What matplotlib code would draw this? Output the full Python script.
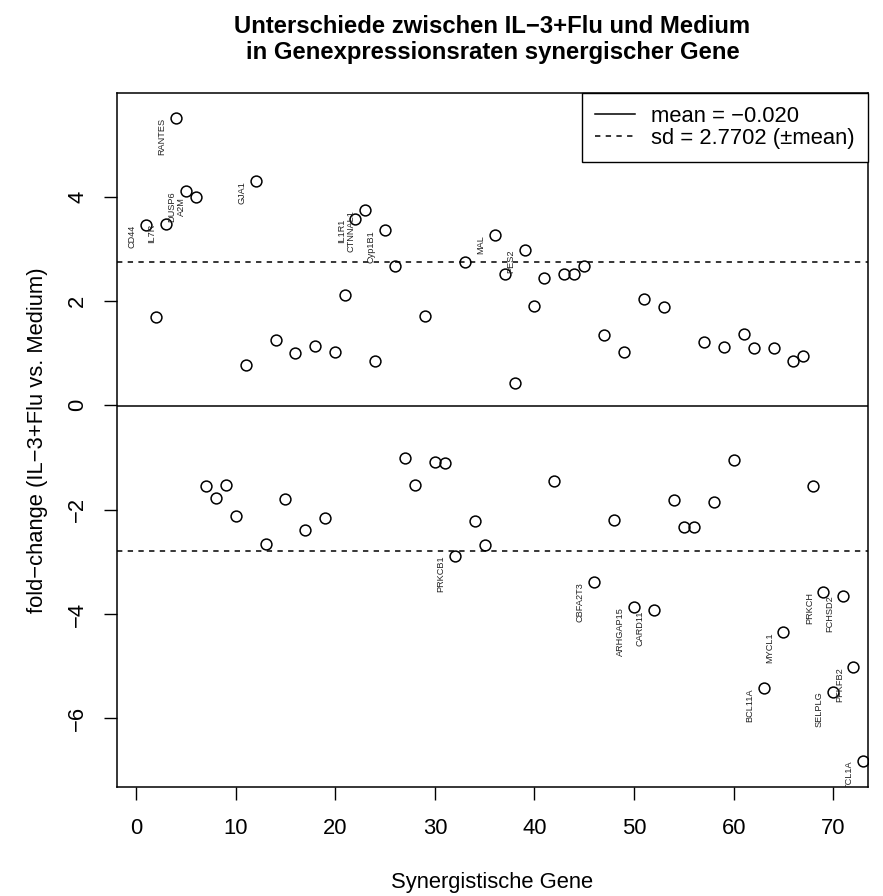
import matplotlib
matplotlib.use("Agg")
import matplotlib.pyplot as plt
import numpy as np

plt.rcParams['font.family'] = ['Liberation Sans', 'DejaVu Sans']

# fold-change per synergistic gene, gene index 1..73
fold_change = [
    3.46, 1.69, 3.47, 5.50, 4.10, 3.99, -1.55, -1.77, -1.52, -2.12,
    0.77, 4.30, -2.65, 1.25, -1.80, 1.00, -2.40, 1.14, -2.16, 1.02,
    2.11, 3.57, 3.74, 0.84, 3.36, 2.67, -1.01, -1.53, 1.72, -1.08,
    -1.11, -2.88, 2.75, -2.22, -2.67, 3.27, 2.52, 0.42, 2.98, 1.90,
    2.44, -1.46, 2.52, 2.52, 2.67, -3.39, 1.35, -2.19, 1.02, -3.86,
    2.03, -3.93, 1.88, -1.81, -2.34, -2.34, 1.21, -1.85, 1.11, -1.04,
    1.37, 1.09, -5.42, 1.09, -4.35, 0.85, 0.94, -1.55, -3.57, -5.49,
    -3.65, -5.02, -6.81,
]
gene_idx = list(range(1, len(fold_change) + 1))

# labelled genes
label_idx = [1, 3, 4, 5, 6, 12, 22, 23, 25, 36, 39,
             32, 46, 50, 52, 63, 65, 69, 70, 71, 72, 73]
label_names = ['CD44', 'IL7R', 'RANTES', 'DUSP6', 'A2M', 'GJA1', 'IL1R1',
               'CTNNAL1', 'Cyp1B1', 'MAL', 'PES2',
               'PRKCB1', 'CBFA2T3', 'ARHGAP15', 'CARD11', 'BCL11A', 'MYCL1',
               'PRKCH', 'SELPLG', 'FCHSD2', 'PFKFB2', 'TCL1A']

mean_fc = -0.020
sd_fc = 2.7702

x_ticks = [0, 10, 20, 30, 40, 50, 60, 70]
y_ticks = [-6, -4, -2, 0, 2, 4]

fig = plt.figure(figsize=(8.83, 8.96), dpi=100)
ax = fig.add_axes([0.1322, 0.122, 0.851, 0.7745])

ax.plot(gene_idx, fold_change, 'o', mfc='none', mec='black', ms=7.8, mew=1.1,
        zorder=3)

ax.axhline(mean_fc, color='black', lw=1.1, label='mean = \u22120.020')
ax.axhline(mean_fc + sd_fc, color='black', lw=1.1, dashes=(3.5, 3.5),
           label='sd = 2.7702 (\u00b1mean)')
ax.axhline(mean_fc - sd_fc, color='black', lw=1.1, dashes=(3.5, 3.5))

for i, name in zip(label_idx, label_names):
    ax.annotate(name, (i, fold_change[i - 1]), xytext=(-10, 0),
                textcoords='offset points', rotation=90,
                rotation_mode='anchor', ha='right', va='center',
                fontsize=6.6, color='#222222', clip_on=True,
                annotation_clip=True)

ax.set_xlim(-1.94, 73.5)
ax.set_ylim(-7.31, 5.99)
ax.set_xticks(x_ticks)
ax.set_yticks(y_ticks)
ax.tick_params(direction='out', length=9.5, width=1.0, labelsize=15.8,
               pad=13)
ax.tick_params(axis='y', pad=11)
for lab in ax.get_yticklabels():
    lab.set_rotation(90)
    lab.set_verticalalignment('center')
    lab.set_horizontalalignment('right')
for sp in ax.spines.values():
    sp.set_linewidth(1.1)

ax.set_xlabel('Synergistische Gene', fontsize=15.8, labelpad=24)
ax.set_ylabel('fold\u2212change (IL\u22123+Flu vs. Medium)', fontsize=15.8,
              labelpad=14)
ax.set_title('Unterschiede zwischen IL\u22123+Flu und Medium\n'
             'in Genexpressionsraten synergischer Gene',
             fontsize=17.2, fontweight='bold', pad=24, linespacing=1.2)

leg = ax.legend(loc='upper right', fontsize=15.8, frameon=True, fancybox=False,
                edgecolor='black', framealpha=1, borderaxespad=0,
                borderpad=0.6, labelspacing=0.05, handlelength=1.8,
                handletextpad=0.75)
leg.get_frame().set_linewidth(1.0)

fig.savefig('out.png', dpi=100)
